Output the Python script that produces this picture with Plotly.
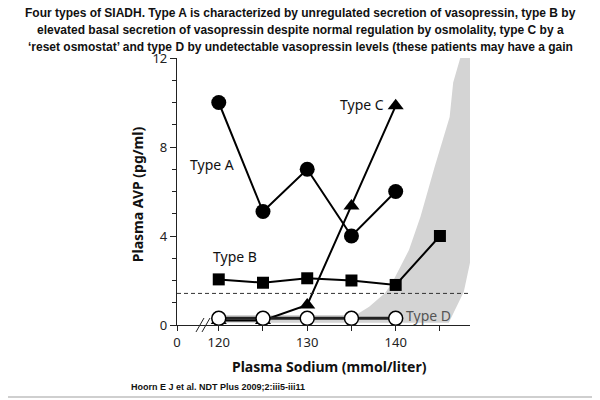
import plotly.graph_objects as go

# ---- data ----
sodium = [120, 125, 130, 135, 140]
type_a = [10.0, 5.1, 7.0, 4.0, 6.0]
type_b_x = [120, 125, 130, 135, 140, 145]
type_b = [2.05, 1.9, 2.1, 2.0, 1.8, 4.0]
type_c = [0.2, 0.2, 0.9, 5.35, 9.85]
type_d = [0.3, 0.3, 0.3, 0.3, 0.3]
normal_limit = 1.42
# shaded normal range (outline of the grey region)
band_x = [120.5, 120.5, 135.5, 137.0, 138.8, 139.6, 141.5, 142.8, 144.4, 146.1, 146.5, 147.3,
          148.4, 148.4, 147.7, 146.5, 146.0]
band_y = [0.1, 0.45, 0.45, 0.82, 1.44, 1.9, 3.37, 4.87, 7.1, 9.35, 10.9, 12.0,
          12.0, 2.8, 1.5, 0.55, 0.1]
x_zero = 115.28  # position of the broken-axis "0"
x_max = 148.4
x_tickvals = [x_zero, 120, 125, 130, 135, 140, 145]
x_ticktext = ["0", "120", "", "130", "", "140", ""]
y_tickvals = [0, 4, 8, 12]

title_lines = [
    "Four types of SIADH. Type A is characterized by unregulated secretion of vasopressin, type B by",
    "elevated basal secretion of vasopressin despite normal regulation by osmolality, type C by a",
    "\u2018reset osmostat\u2019 and type D by undetectable vasopressin levels (these patients may have a gain",
]
title_line_y = [1.1685, 1.1049, 1.0412]

FONT = "Noto Sans"
fig = go.Figure()

fig.add_trace(go.Scatter(x=band_x, y=band_y, fill="toself", fillcolor="#d4d4d4",
                         line=dict(width=0), mode="lines", hoverinfo="skip"))
fig.add_trace(go.Scatter(x=sodium, y=type_c, mode="lines+markers",
                         line=dict(color="black", width=2),
                         marker=dict(symbol="triangle-up", size=14, color="black")))
fig.add_trace(go.Scatter(x=sodium, y=type_a, mode="lines+markers",
                         line=dict(color="black", width=2),
                         marker=dict(symbol="circle", size=15, color="black")))
fig.add_trace(go.Scatter(x=type_b_x, y=type_b, mode="lines+markers",
                         line=dict(color="black", width=2),
                         marker=dict(symbol="square", size=12, color="black")))
fig.add_trace(go.Scatter(x=sodium, y=type_d, mode="lines+markers",
                         line=dict(color="#222", width=3),
                         marker=dict(symbol="circle", size=14, color="white",
                                     line=dict(color="black", width=1.5))))

shapes = [
    dict(type="line", xref="paper", yref="y", x0=0, x1=1, y0=normal_limit, y1=normal_limit,
         line=dict(color="#333", width=1, dash="4px,3px")),
    # axis break marks
    dict(type="line", xref="paper", yref="paper", x0=0.0648, x1=0.0922, y0=-0.0262, y1=0.0262,
         line=dict(color="#222", width=1)),
    dict(type="line", xref="paper", yref="paper", x0=0.0853, x1=0.1126, y0=-0.0262, y1=0.0262,
         line=dict(color="#222", width=1)),
    # faint image border lines
    dict(type="line", xref="paper", yref="paper", x0=-0.61, x1=1.45, y0=1.2135, y1=1.2135,
         line=dict(color="#cfcfcf", width=2)),
    dict(type="line", xref="paper", yref="paper", x0=-0.61, x1=1.45, y0=-0.2697, y1=-0.2697,
         line=dict(color="#cfcfcf", width=2)),
]

label_font = dict(family=FONT, size=14, color="#111")
annotations = [
    dict(x=0.4198, y=ty, xref="paper", yref="paper", xanchor="center", yanchor="middle",
         text="<b>" + line + "</b>", showarrow=False,
         font=dict(family="Liberation Sans", size=12, color="#111"))
    for line, ty in zip(title_lines, title_line_y)
]
annotations += [
    dict(x=119.2, y=7.2, text="Type A", showarrow=False, font=label_font),
    dict(x=121.8, y=3.07, text="Type B", showarrow=False, font=label_font),
    dict(x=136.2, y=9.9, text="Type C", showarrow=False, font=label_font),
    dict(x=143.7, y=0.42, text="Type D", showarrow=False,
         font=dict(family=FONT, size=14, color="#555")),
    dict(x=0.522, y=-0.157, xref="paper", yref="paper", xanchor="center", yanchor="middle",
         text="<b>Plasma Sodium (mmol/liter)</b>",
         showarrow=False, font=dict(family=FONT, size=14, color="#111")),
    dict(x=-0.1365, y=0.49, xref="paper", yref="paper", xanchor="center", yanchor="middle",
         text="<b>Plasma AVP (pg/ml)</b>",
         textangle=-90, showarrow=False, font=dict(family=FONT, size=14, color="#111")),
    dict(x=-0.164, y=-0.232, xref="paper", yref="paper", xanchor="left", yanchor="middle",
         text="<b>Hoorn E J et al. NDT Plus 2009;2:iii5-iii11</b>",
         showarrow=False, font=dict(family="Liberation Sans", size=9, color="#111")),
]

fig.update_layout(
    width=600, height=400,
    margin=dict(l=169, r=138, t=50, b=83),
    paper_bgcolor="white", plot_bgcolor="white",
    showlegend=False,
    shapes=shapes, annotations=annotations,
    xaxis=dict(range=[x_zero, x_max], showgrid=False, zeroline=False,
               showline=True, linecolor="#222", linewidth=1.2,
               tickmode="array", tickvals=x_tickvals, ticktext=x_ticktext,
               ticks="outside", ticklen=5, tickcolor="#222", tickwidth=1.2,
               tickfont=dict(family=FONT, size=13, color="#222")),
    yaxis=dict(range=[0, 12], showgrid=False, zeroline=False,
               showline=True, linecolor="#222", linewidth=1.2,
               tickmode="array", tickvals=y_tickvals,
               ticks="outside", ticklen=6, tickcolor="#222", tickwidth=1.2,
               minor=dict(dtick=1, ticks="outside", ticklen=4, tickcolor="#222", tickwidth=1),
               tickfont=dict(family=FONT, size=13, color="#222")),
)

fig.write_html("out.html")
